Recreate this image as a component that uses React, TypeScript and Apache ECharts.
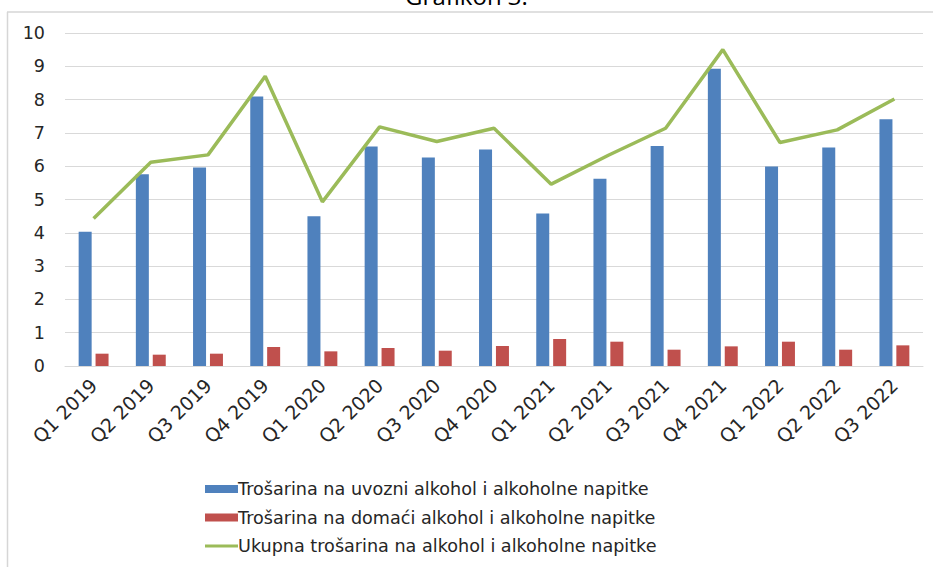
import React, { useEffect, useRef } from "react";
import * as echarts from "echarts";

const categories = [
  "Q1 2019", "Q2 2019", "Q3 2019", "Q4 2019",
  "Q1 2020", "Q2 2020", "Q3 2020", "Q4 2020",
  "Q1 2021", "Q2 2021", "Q3 2021", "Q4 2021",
  "Q1 2022", "Q2 2022", "Q3 2022",
];
const importValues = [4.03, 5.76, 5.96, 8.09, 4.5, 6.59, 6.26, 6.5, 4.58, 5.62, 6.61, 8.93, 5.99, 6.56, 7.41];
const domesticValues = [0.37, 0.34, 0.37, 0.57, 0.44, 0.54, 0.46, 0.6, 0.81, 0.73, 0.49, 0.59, 0.73, 0.49, 0.62];
const totalValues = [4.43, 6.12, 6.34, 8.7, 4.93, 7.18, 6.74, 7.14, 5.46, 6.33, 7.14, 9.5, 6.71, 7.09, 8.02];

const seriesNames = [
  "Trošarina na uvozni alkohol i alkoholne napitke",
  "Trošarina na domaći alkohol i alkoholne napitke",
  "Ukupna trošarina na alkohol i alkoholne napitke",
];
const titleText = "Grafikon 3.";

export default function App() {
  const ref = useRef<HTMLDivElement>(null);
  useEffect(() => {
    if (!ref.current) return;
    const chart = echarts.init(ref.current, undefined, { renderer: "svg" });
    const font = "DejaVu Sans";
    chart.setOption({
      animation: false,
      backgroundColor: "#ffffff",
      graphic: [
        {
          type: "text",
          left: "center",
          top: -17,
          style: { text: titleText, font: "24px 'Open Sans'", fill: "#000000" },
        },
        { type: "line", shape: { x1: 7, y1: 12, x2: 933, y2: 12 }, style: { stroke: "#d6d6d6", lineWidth: 1.5 } },
        { type: "line", shape: { x1: 7.5, y1: 12, x2: 7.5, y2: 567 }, style: { stroke: "#d6d6d6", lineWidth: 1.5 } },
      ],
      grid: { left: 65, right: 10, top: 33, bottom: 201 },
      legend: {
        orient: "vertical",
        left: 200,
        top: 475,
        itemWidth: 33,
        itemHeight: 8,
        itemGap: 10.5,
        symbolKeepAspect: true,
        textStyle: { fontFamily: font, fontSize: 17.6, color: "#262626", padding: [0, 0, 0, -5] },
        data: [
          { name: seriesNames[0], icon: "rect" },
          { name: seriesNames[1], icon: "rect" },
          { name: seriesNames[2], icon: "path://M0,0 L33,0 L33,3 L0,3 Z" },
        ],
      },
      xAxis: {
        type: "category",
        data: categories,
        boundaryGap: true,
        axisLine: { show: true, lineStyle: { color: "#d9d9d9", width: 1 } },
        axisTick: { show: false },
        axisLabel: {
          rotate: 45,
          interval: 0,
          margin: 16,
          fontFamily: font,
          fontSize: 19,
          color: "#262626",
        },
      },
      yAxis: {
        type: "value",
        min: 0,
        max: 10,
        interval: 1,
        axisLine: { show: false },
        axisTick: { show: false },
        splitLine: { lineStyle: { color: "#d9d9d9", width: 1 } },
        axisLabel: { margin: 20, fontFamily: font, fontSize: 17.5, color: "#262626" },
      },
      series: [
        {
          name: seriesNames[0],
          type: "bar",
          data: importValues,
          barWidth: 13,
          barGap: "30%",
          itemStyle: { color: "#4F81BD" },
        },
        {
          name: seriesNames[1],
          type: "bar",
          data: domesticValues,
          barWidth: 13,
          barGap: "30%",
          itemStyle: { color: "#C0504D" },
        },
        {
          name: seriesNames[2],
          type: "line",
          data: totalValues,
          symbol: "none",
          lineStyle: { color: "#9BBB59", width: 3.5 },
          itemStyle: { color: "#9BBB59" },
        },
      ],
    });
    return () => chart.dispose();
  }, []);
  return (
    <div
      ref={ref}
      style={{ position: "fixed", left: 0, top: 0, width: 933, height: 567, background: "#fff" }}
    />
  );
}
